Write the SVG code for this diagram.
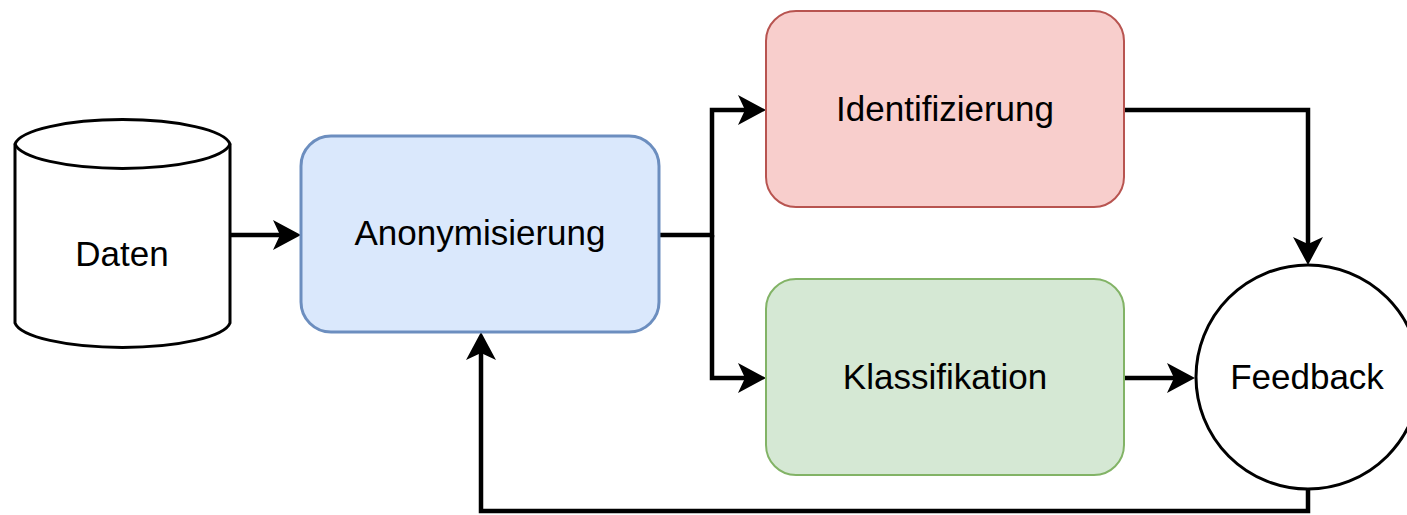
<svg xmlns="http://www.w3.org/2000/svg" width="1407" height="515" viewBox="0 0 1407 515">
<style>
.lbl{font-family:"Liberation Sans",Arial,Helvetica,sans-serif;font-size:35px;fill:#000;text-anchor:middle}
.edge{fill:none;stroke:#000;stroke-width:4.5;stroke-linejoin:miter;marker-end:url(#arr)}
</style>
<defs>
<marker id="arr" markerUnits="userSpaceOnUse" viewBox="0 0 28 30" markerWidth="28" markerHeight="30" refX="8" refY="15" orient="auto">
<path d="M28,15 L0,0 L7,15 L0,30 Z" fill="#000"/>
</marker>
</defs>
<rect width="1407" height="515" fill="#fff"/>
<g id="connectors">
<path class="edge" d="M230,235 H281"/>
<path class="edge" d="M659,235 H712 V110 H746"/>
<path class="edge" d="M712,235 V378 H746"/>
<path class="edge" d="M1124,110 H1308 V245"/>
<path class="edge" d="M1124,378 H1175"/>
<path class="edge" d="M1308,489 V511 H481 V352"/>
</g>
<g id="daten">
<path d="M15,144 A108,27 0 0 1 230,144 V323 A108,27 0 0 1 15,323 Z" fill="#fff" stroke="#000" stroke-width="3"/>
<path d="M15,144 A108,27 0 0 0 230,144" fill="none" stroke="#000" stroke-width="3"/>
<text class="lbl" x="122" y="266">Daten</text>
</g>
<g id="anonymisierung">
<rect x="301" y="136" width="358" height="196" rx="30" fill="#dae8fc" stroke="#6c8ebf" stroke-width="3"/>
<text class="lbl" x="480" y="245">Anonymisierung</text>
</g>
<g id="identifizierung">
<rect x="766" y="11" width="358" height="196" rx="30" fill="#f8cecc" stroke="#b85450" stroke-width="2"/>
<text class="lbl" x="945" y="121">Identifizierung</text>
</g>
<g id="klassifikation">
<rect x="766" y="279" width="358" height="196" rx="30" fill="#d5e8d4" stroke="#82b366" stroke-width="2"/>
<text class="lbl" x="945" y="389">Klassifikation</text>
</g>
<g id="feedback">
<circle cx="1308" cy="377" r="112" fill="#fff" stroke="#000" stroke-width="3"/>
<text class="lbl" x="1307" y="389">Feedback</text>
</g>
</svg>
